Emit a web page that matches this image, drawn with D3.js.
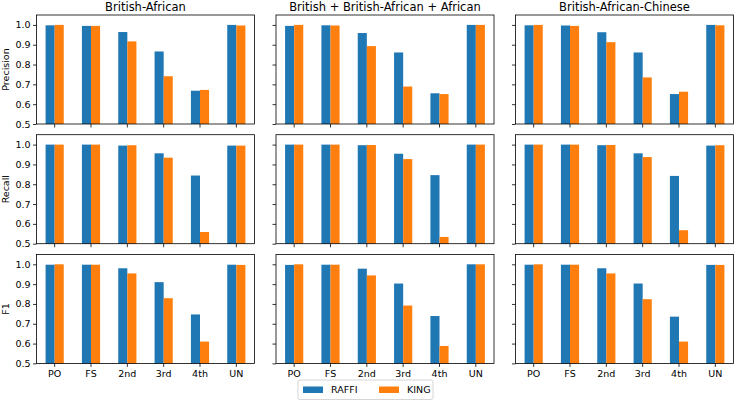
<!DOCTYPE html>
<html>
<head>
<meta charset="utf-8">
<script src="https://cdn.jsdelivr.net/npm/d3@7"></script>
<style>
  html, body { margin: 0; padding: 0; background: #fff; }
  svg { display: block; font-family: "DejaVu Sans", sans-serif; }
</style>
</head>
<body>
<svg id="chart" width="735" height="400"></svg>
<script>
// ---------- data ----------
const categories = ["PO", "FS", "2nd", "3rd", "4th", "UN"];
const series = ["RAFFI", "KING"];
const datasets = ["British-African", "British + British-African + African", "British-African-Chinese"];
const metrics = ["Precision", "Recall", "F1"];
const yTicks = [0.5, 0.6, 0.7, 0.8, 0.9, 1.0];

// British-African
const ba_precision_raffi = [0.998, 0.995, 0.964, 0.866, 0.668, 1.000];
const ba_precision_king  = [1.000, 0.995, 0.917, 0.741, 0.672, 0.997];
const ba_recall_raffi    = [1.000, 1.000, 0.995, 0.956, 0.844, 0.995];
const ba_recall_king     = [1.000, 1.000, 0.997, 0.934, 0.559, 0.995];
const ba_f1_raffi        = [0.998, 0.998, 0.980, 0.910, 0.747, 0.998];
const ba_f1_king         = [1.000, 0.998, 0.954, 0.829, 0.610, 0.997];

// British + British-African + African
const bba_precision_raffi = [0.995, 0.998, 0.959, 0.861, 0.655, 1.000];
const bba_precision_king  = [1.000, 0.997, 0.893, 0.689, 0.651, 1.000];
const bba_recall_raffi    = [1.000, 1.000, 0.997, 0.954, 0.846, 1.000];
const bba_recall_king     = [1.000, 1.000, 0.998, 0.927, 0.534, 1.000];
const bba_f1_raffi        = [0.997, 0.998, 0.978, 0.903, 0.739, 1.000];
const bba_f1_king         = [1.000, 0.998, 0.944, 0.792, 0.588, 1.000];

// British-African-Chinese
const bac_precision_raffi = [0.998, 0.997, 0.963, 0.861, 0.651, 1.000];
const bac_precision_king  = [1.000, 0.995, 0.913, 0.735, 0.663, 0.998];
const bac_recall_raffi    = [1.000, 1.000, 0.997, 0.956, 0.842, 0.995];
const bac_recall_king     = [1.000, 1.000, 0.998, 0.937, 0.568, 0.997];
const bac_f1_raffi        = [0.998, 0.998, 0.980, 0.903, 0.736, 0.997];
const bac_f1_king         = [1.000, 0.998, 0.954, 0.824, 0.610, 0.997];

const table = [
  [[ba_precision_raffi, ba_precision_king], [bba_precision_raffi, bba_precision_king], [bac_precision_raffi, bac_precision_king]],
  [[ba_recall_raffi, ba_recall_king], [bba_recall_raffi, bba_recall_king], [bac_recall_raffi, bac_recall_king]],
  [[ba_f1_raffi, ba_f1_king], [bba_f1_raffi, bba_f1_king], [bac_f1_raffi, bac_f1_king]]
];

// ---------- layout ----------
const colors = ["#1f77b4", "#ff7f0e"];
const colLefts = [36.5, 276, 515.5];
const rowTops = [15, 134.7, 254.4];
const pw = 218, ph = 109;
const tickFont = 9.5, titleFont = 11.5;

const svg = d3.select("#chart");

const x = d3.scaleBand().domain(categories).range([0, pw]).paddingInner(0).paddingOuter(0);
const y = d3.scaleLinear().domain([0.5, 1.05]).range([ph, 0]);
const barW = x.bandwidth() * 0.25;
const xs = d3.scaleBand().domain(series).range([-barW, barW]);

metrics.forEach((m, r) => {
  datasets.forEach((ds, c) => {
    const g = svg.append("g").attr("transform", `translate(${colLefts[c]},${rowTops[r]})`);
    const clipId = `clip-${r}-${c}`;
    g.append("clipPath").attr("id", clipId).append("rect").attr("width", pw).attr("height", ph);

    const bars = g.append("g").attr("clip-path", `url(#${clipId})`);
    series.forEach((s, si) => {
      const vals = table[r][c][si];
      bars.selectAll(null).data(categories.map((cat, i) => ({cat, v: vals[i]})))
        .enter().append("rect")
        .attr("x", d => x(d.cat) + x.bandwidth() / 2 + xs(s))
        .attr("width", xs.bandwidth())
        .attr("y", d => y(d.v))
        .attr("height", d => ph - y(d.v) + 1)
        .attr("fill", colors[si]);
    });

    // axes
    const xAxis = d3.axisBottom(x).tickSize(3.5).tickSizeOuter(0)
      .tickFormat(r === metrics.length - 1 ? (d => d) : () => "");
    const gx = g.append("g").attr("transform", `translate(0,${ph})`).call(xAxis);
    const yAxis = d3.axisLeft(y).tickValues(yTicks).tickSize(3.5).tickSizeOuter(0)
      .tickFormat(c === 0 ? d3.format(".1f") : () => "");
    const gy = g.append("g").call(yAxis);
    [gx, gy].forEach(ax => {
      ax.select(".domain").remove();
      ax.selectAll(".tick line").attr("stroke", "#000").attr("stroke-width", 0.8);
      ax.selectAll(".tick text").attr("fill", "#000").attr("font-size", tickFont)
        .attr("font-family", "DejaVu Sans, sans-serif");
    });
    gx.selectAll(".tick text").attr("dy", "0.95em").attr("y", 5);
    gy.selectAll(".tick text").attr("x", -6);

    // spines
    g.append("rect").attr("width", pw).attr("height", ph)
      .attr("fill", "none").attr("stroke", "#000").attr("stroke-width", 0.8);

    if (r === 0) {
      g.append("text").attr("x", pw / 2).attr("y", -4.5)
        .attr("text-anchor", "middle").attr("font-size", titleFont).attr("fill", "#000")
        .text(ds);
    }
    if (c === 0) {
      g.append("text")
        .attr("transform", `translate(${-colLefts[0] + 9},${ph / 2}) rotate(-90)`)
        .attr("text-anchor", "middle").attr("font-size", tickFont).attr("fill", "#000")
        .text(m);
    }
  });
});

// ---------- legend ----------
const lg = svg.append("g").attr("transform", "translate(298,380)");
lg.append("rect").attr("x", 0).attr("y", 0).attr("width", 135).attr("height", 19.5)
  .attr("rx", 2).attr("fill", "#fff").attr("fill-opacity", 0.8)
  .attr("stroke", "#ccc").attr("stroke-width", 0.8);
const legendX = [5, 81];
series.forEach((s, i) => {
  lg.append("rect").attr("x", legendX[i]).attr("y", 6.5).attr("width", 20).attr("height", 6.5)
    .attr("fill", colors[i]);
  lg.append("text").attr("x", legendX[i] + 28).attr("y", 9.75).attr("dy", "0.35em")
    .attr("font-size", tickFont).attr("fill", "#000").text(s);
});
</script>
</body>
</html>
